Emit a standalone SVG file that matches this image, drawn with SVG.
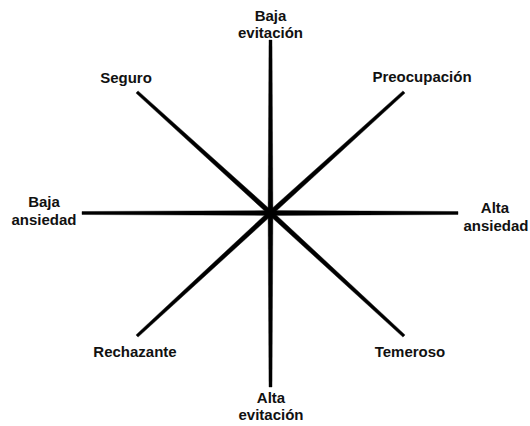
<svg xmlns="http://www.w3.org/2000/svg" width="530" height="426" viewBox="0 0 530 426">
<style>
.lbl{font-family:"Liberation Sans",Arial,sans-serif;font-weight:bold;font-size:15px;fill:#111;text-anchor:middle}
.spoke{fill:#000;stroke:#000;stroke-width:0.4;stroke-linejoin:round}
</style>
<rect width="530" height="426" fill="#fff"/>
<g id="connectors">
<polygon class="spoke" points="272.9,213 272,40 269,40 268.1,213"/>
<polygon class="spoke" points="272.9,213 272,387 269,387 268.1,213"/>
<polygon class="spoke" points="270.5,215.4 82,214.5 82,211.5 270.5,210.6"/>
<polygon class="spoke" points="270.5,215.4 458,214.5 458,211.5 270.5,210.6"/>
<polygon class="spoke" points="272.11,211.22 138.01,90.89 135.99,93.11 268.89,214.78"/>
<polygon class="spoke" points="272.11,214.78 405.01,93.11 402.99,90.89 268.89,211.22"/>
<polygon class="spoke" points="272.13,214.77 138.02,337.1 135.98,334.9 268.87,211.23"/>
<polygon class="spoke" points="268.87,214.77 402.98,337.1 405.02,334.9 272.13,211.23"/>
<circle cx="270.5" cy="213" r="3.6" fill="#000"/>
</g>
<g id="baja-evitacion"><text class="lbl" x="270.5" y="21">Baja</text><text class="lbl" x="270.5" y="38">evitación</text></g>
<g id="alta-evitacion"><text class="lbl" x="271" y="403">Alta</text><text class="lbl" x="271" y="420">evitación</text></g>
<g id="baja-ansiedad"><text class="lbl" x="44" y="207">Baja</text><text class="lbl" x="44" y="225">ansiedad</text></g>
<g id="alta-ansiedad"><text class="lbl" x="495" y="213">Alta</text><text class="lbl" x="496" y="231">ansiedad</text></g>
<g id="seguro"><text class="lbl" x="126" y="83">Seguro</text></g>
<g id="preocupacion"><text class="lbl" x="422" y="82">Preocupación</text></g>
<g id="rechazante"><text class="lbl" x="135" y="357">Rechazante</text></g>
<g id="temeroso"><text class="lbl" x="410" y="357">Temeroso</text></g>
</svg>
